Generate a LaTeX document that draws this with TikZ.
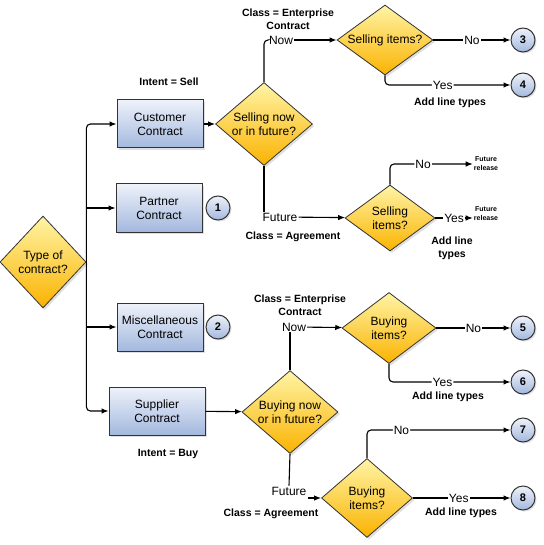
\documentclass[tikz,border=0pt]{standalone}
\usepackage{fontspec}
\setmainfont{Liberation Sans}
\usetikzlibrary{arrows.meta,shapes.geometric,shadows}
\definecolor{boxtop}{HTML}{EEF2FA}
\definecolor{boxbot}{HTML}{A3B8DE}
\definecolor{dectop}{HTML}{FFF4A6}
\definecolor{decbot}{HTML}{FAB300}
\begin{document}
\begin{tikzpicture}[
    x=1pt, y=-1pt,
    every node/.style={align=center},
    box/.style={draw=black!80, line width=1pt, top color=boxtop, bottom color=boxbot,
        font=\fontsize{12}{14}\selectfont, inner sep=0pt,
        drop shadow={shadow xshift=2pt, shadow yshift=-2pt, opacity=0.25}},
    decision/.style={diamond, draw=black!80, line width=0.8pt, top color=dectop, bottom color=decbot,
        font=\fontsize{12}{14.5}\selectfont, inner sep=0pt, aspect=1.3,
        drop shadow={shadow xshift=2pt, shadow yshift=-2pt, opacity=0.25}},
    marker/.style={circle, draw=black!80, line width=1pt, top color=boxtop, bottom color=boxbot,
        minimum size=24pt, inner sep=0pt, font=\fontsize{11}{11}\selectfont\bfseries,
        drop shadow={shadow xshift=1.5pt, shadow yshift=-1.5pt, opacity=0.25}},
    note/.style={font=\fontsize{10.5}{13}\selectfont\bfseries},
    tiny note/.style={font=\fontsize{7}{9}\selectfont\bfseries, inner sep=1pt},
    answer/.style={fill=white, inner sep=1pt, font=\fontsize{12}{12}\selectfont},
    flow/.style={draw, line width=1.1pt, -{Latex[length=7pt,width=5.5pt]}},
    link/.style={draw, line width=1.1pt},
    ]
\useasboundingbox (0,0) rectangle (543,545);
% contract type
\node[decision, minimum width=86pt, minimum height=92pt] (Type) at (43,262) {Type of\\contract?};
\node[box, minimum width=86pt, minimum height=48pt] (Customer) at (160,124) {Customer\\Contract};
\node[box, minimum width=86pt, minimum height=48pt] (Partner) at (159,208) {Partner\\Contract};
\node[box, minimum width=86pt, minimum height=48pt] (Misc) at (160,327) {Miscellaneous\\Contract};
\node[box, minimum width=96pt, minimum height=48pt] (Supplier) at (157,411) {Supplier\\Contract};
\node[marker] (One) at (218,208) {1};
\node[marker] (Two) at (218,327) {2};
\node[note] (IntentSell) at (169,82) {Intent = Sell};
\node[note] (IntentBuy) at (168,454) {Intent = Buy};
\draw[flow, rounded corners=4pt] (Type.east) |- (Customer.west);
\draw[flow, rounded corners=4pt] (Type.east) |- (Supplier.west);
\draw[flow] (Type.east) |- (Partner.west);
\draw[flow] (Type.east) |- (Misc.west);
% selling side
\node[decision, minimum width=97pt, minimum height=83pt] (SellWhen) at (264,124) {Selling now\\or in future?};
\draw[flow] (Customer) -- (SellWhen);
\node[note] (SellClassA) at (288,19) {Class = Enterprise\\Contract};
\node[answer] (SellNow) at (281,40) {Now};
\node[decision, minimum width=96pt, minimum height=70pt] (SellItems) at (385,40) {Selling items?};
\node[marker] (Three) at (523,40) {3};
\node[marker] (Four) at (523,85) {4};
\draw[link, rounded corners=4pt] (SellWhen.north) |- (SellNow.west);
\draw[flow] (SellNow) -- (SellItems);
\draw[flow] (SellItems) -- node[answer] (SellNoA) {No} (Three);
\draw[flow, rounded corners=4pt] (SellItems.south) |- node[answer, pos=0.73] (SellYesA) {Yes} (Four);
\node[note] (SellAddA) at (450,103) {Add line types};
\node[answer] (SellFuture) at (280,217) {Future};
\node[note] (SellClassB) at (293,237) {Class = Agreement};
\node[decision, minimum width=90pt, minimum height=66pt] (SellItemsB) at (390,218) {Selling\\items?};
\draw[link] (SellWhen.south) -- (SellWhen.south |- SellFuture.north);
\draw[flow] (SellFuture) -- (SellItemsB);
\node[tiny note] (ReleaseA) at (486,164) {Future\\release};
\node[tiny note] (ReleaseB) at (486,214) {Future\\release};
\draw[flow, rounded corners=4pt] (SellItemsB.north) |- node[answer, pos=0.7] (SellNoB) {No} (ReleaseA.west);
\draw[flow] (SellItemsB.east) -- node[answer, pos=0.5] (SellYesB) {Yes} (ReleaseB.west |- SellItemsB.east);
\node[note] (SellAddB) at (452,248) {Add line\\types};
% buying side
\node[decision, minimum width=96pt, minimum height=83pt] (BuyWhen) at (290,412) {Buying now\\or in future?};
\draw[flow] (Supplier) -- (BuyWhen);
\node[note] (BuyClassA) at (300,305) {Class = Enterprise\\Contract};
\node[answer] (BuyNow) at (294,327) {Now};
\node[decision, minimum width=94pt, minimum height=71pt] (BuyItems) at (389,328) {Buying\\items?};
\node[marker] (Five) at (523,328) {5};
\node[marker] (Six) at (523,382) {6};
\draw[link] (BuyWhen.north) -- (BuyWhen.north |- BuyNow.south);
\draw[flow] (BuyNow) -- (BuyItems);
\draw[flow] (BuyItems) -- node[answer] (BuyNoA) {No} (Five);
\draw[flow, rounded corners=4pt] (BuyItems.south) |- node[answer, pos=0.72] (BuyYesA) {Yes} (Six);
\node[note] (BuyAddA) at (448,397) {Add line types};
\node[answer] (BuyFuture) at (289,491) {Future};
\node[note] (BuyClassB) at (271,514) {Class = Agreement};
\node[decision, minimum width=91pt, minimum height=79pt] (BuyItemsB) at (367,498) {Buying\\items?};
\node[marker] (Seven) at (523,430) {7};
\node[marker] (Eight) at (523,498) {8};
\draw[link] (BuyWhen.south) -- (BuyFuture.north);
\draw[flow] (BuyFuture.east |- BuyItemsB.west) -- (BuyItemsB.west);
\draw[flow, rounded corners=4pt] (BuyItemsB.north) |- node[answer, pos=0.62] (BuyNoB) {No} (Seven);
\draw[flow] (BuyItemsB) -- node[answer, pos=0.47] (BuyYesB) {Yes} (Eight);
\node[note] (BuyAddB) at (461,513) {Add line types};
\end{tikzpicture}
\end{document}
